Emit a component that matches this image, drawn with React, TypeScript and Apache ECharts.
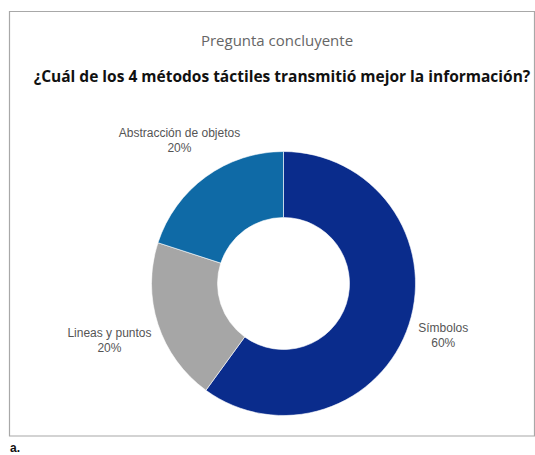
import React, { useEffect, useRef } from "react";
import * as echarts from "echarts";

const categories = ["Símbolos", "Lineas y puntos", "Abstracción de objetos"];
const values = [60, 20, 20];
const colors = ["#0a2c8c", "#a6a6a6", "#0f6aa6"];
const labelLengths = [36, 51, 45];
const titleText = "Pregunta concluyente";
const subtitleText = "¿Cuál de los 4 métodos táctiles transmitió mejor la información?";
const captionText = "a.";

export default function App() {
  const ref = useRef<HTMLDivElement>(null);
  useEffect(() => {
    if (!ref.current) return;
    const chart = echarts.init(ref.current, null, { renderer: "svg" });
    chart.setOption({
      animation: false,
      backgroundColor: "#ffffff",
      title: [
        {
          text: titleText,
          left: 272,
          top: 27,
          textAlign: "center",
          textStyle: { fontFamily: "Open Sans", fontSize: 15, fontWeight: 400, color: "#666666" },
        },
        {
          text: subtitleText,
          left: 277,
          top: 63,
          textAlign: "center",
          textStyle: { fontFamily: "Open Sans", fontSize: 15.5, fontWeight: 700, color: "#111111" },
        },
      ],
      graphic: [
        {
          type: "rect",
          shape: { x: 9.5, y: 11.5, width: 525, height: 424.5 },
          style: { fill: "none", stroke: "#a8a8a8", lineWidth: 1.2 },
          silent: true,
        },
        {
          type: "text",
          x: 10,
          y: 448,
          style: {
            text: captionText,
            fontFamily: "Liberation Sans",
            fontWeight: 700,
            fontSize: 12,
            fill: "#111111",
            verticalAlign: "middle",
          },
        },
      ],
      series: [
        {
          type: "pie",
          center: [283.5, 283.5],
          radius: [66, 132],
          startAngle: 90,
          clockwise: true,
          avoidLabelOverlap: false,
          itemStyle: { borderColor: "#ffffff", borderWidth: 0.6 },
          label: {
            show: true,
            position: "outside",
            distanceToLabelLine: 0,
            formatter: "{b}\n{d}%",
            fontFamily: "Liberation Sans",
            fontSize: 12,
            lineHeight: 15,
            color: "#555555",
          },
          labelLine: { show: false, length: 40, length2: 0 },
          labelLayout: { align: "center", verticalAlign: "middle" },
          data: categories.map((name, i) => ({
            name,
            value: values[i],
            itemStyle: { color: colors[i] },
            labelLine: { show: false, length: labelLengths[i], length2: 0 },
          })),
        },
      ],
    });
    return () => chart.dispose();
  }, []);
  return <div ref={ref} style={{ position: "absolute", left: 0, top: 0, width: 535, height: 455 }} />;
}
